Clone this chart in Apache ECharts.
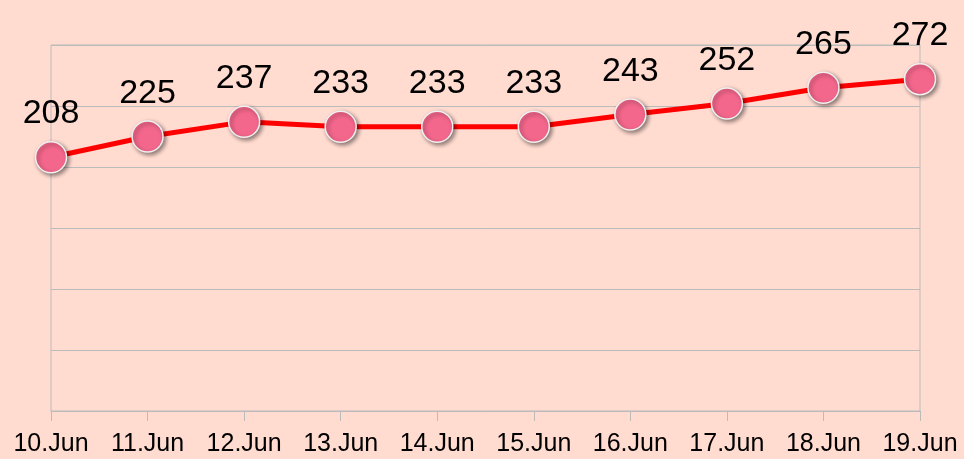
<!DOCTYPE html>
<html lang="en">
<head>
    <meta charset="UTF-8">
    <title>Jun chart</title>
    <script src="https://cdn.jsdelivr.net/npm/echarts@6/dist/echarts.min.js"></script>
    <style>
        html, body { margin: 0; padding: 0; background: #FFDBD0; }
        #chart { width: 964px; height: 459px; }
    </style>
</head>
<body>
<div id="chart"></div>
<script type="application/javascript">
    var days = ['10.Jun', '11.Jun', '12.Jun', '13.Jun', '14.Jun', '15.Jun', '16.Jun', '17.Jun', '18.Jun', '19.Jun'];
    var counts = [208, 225, 237, 233, 233, 233, 243, 252, 265, 272];

    var chart = echarts.init(document.getElementById('chart'));
    var option = {
        backgroundColor: '#FFDBD0',
        animation: false,
        grid: {
            left: 51,
            right: 44,
            top: 45,
            bottom: 48,
            show: true,
            borderColor: '#BBBBBB',
            borderWidth: 1,
            backgroundColor: 'transparent'
        },
        xAxis: {
            type: 'category',
            data: days,
            boundaryGap: false,
            axisLine: {lineStyle: {color: '#BBBBBB', width: 1}},
            axisTick: {show: true, length: 10, lineStyle: {color: '#BBBBBB'}},
            axisLabel: {
                color: '#000',
                fontFamily: 'Liberation Sans',
                fontSize: 25,
                margin: 21,
                interval: 0
            },
            splitLine: {show: false}
        },
        yAxis: {
            type: 'value',
            min: 0,
            max: 300,
            interval: 50,
            axisLabel: {show: false},
            axisLine: {show: false},
            axisTick: {show: false},
            splitLine: {lineStyle: {color: '#BBBBBB', width: 1}}
        },
        series: [{
            type: 'line',
            data: counts,
            symbol: 'circle',
            symbolSize: 31,
            lineStyle: {color: '#FF0000', width: 5},
            itemStyle: {
                color: '#F4678C',
                borderColor: '#F0F0F0',
                borderWidth: 1.5,
                shadowColor: 'rgba(0,0,0,0.45)',
                shadowBlur: 4,
                shadowOffsetX: 2,
                shadowOffsetY: 2
            },
            label: {
                show: true,
                position: 'top',
                distance: 10,
                color: '#000',
                fontFamily: 'Liberation Sans',
                fontSize: 34
            }
        }]
    };
    chart.setOption(option);
</script>
</body>
</html>
